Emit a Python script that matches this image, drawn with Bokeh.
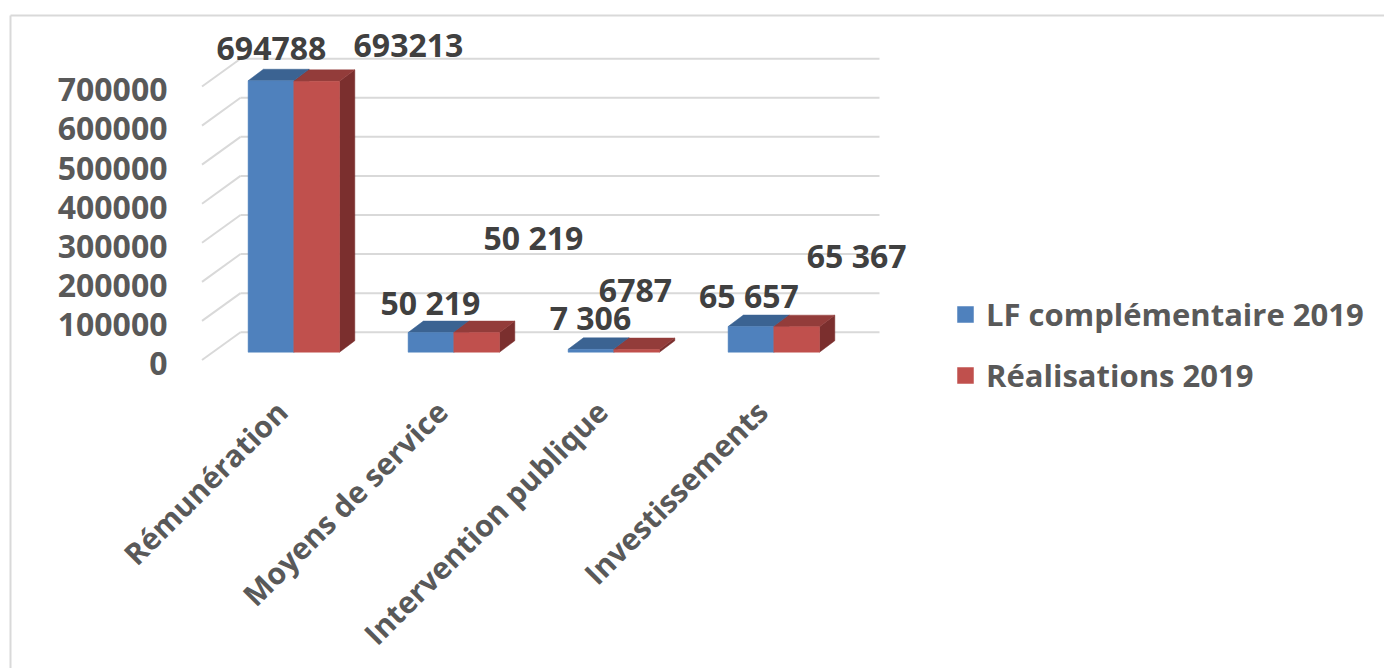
import math

from bokeh.core.properties import value
from bokeh.embed import file_html
from bokeh.models import ColumnDataSource, Legend, LegendItem, Range1d
from bokeh.plotting import figure
from bokeh.resources import INLINE

# ---------------------------------------------------------------- data
categories = ["Rémunération", "Moyens de service", "Intervention publique", "Investissements"]
series_names = ["LF complémentaire 2019", "Réalisations 2019"]
lf_2019 = [694788, 50219, 7306, 65657]
real_2019 = [693213, 50219, 6787, 65367]
lf_labels = ["694788", "50 219", "7 306", "65 657"]
real_labels = ["693213", "50 219", "6787", "65 367"]
y_ticks = [0, 100000, 200000, 300000, 400000, 500000, 600000, 700000]
y_tick_labels = ["0", "100000", "200000", "300000", "400000", "500000", "600000", "700000"]

# ---------------------------------------------------------------- layout / style
W, H = 1384, 668
FONT = value("Open Sans")
CAT0_PX, CAT_STEP_PX = 293.3, 160.0      # first category centre, category pitch
BASE_PX = 351.7                          # pixel row of the bars' zero
PX_PER_VAL = 39.07 / 100000              # pixels per unit of value

BLUE, BLUE_TOP, BLUE_SIDE = "#4F81BD", "#3B6392", "#2F4F75"
RED, RED_TOP, RED_SIDE = "#C0504D", "#933C3A", "#7B2F2E"
GRID = "#D9D9D9"
TICK_TXT = "#595959"
LABEL_TXT = "#404040"


def dx(px):
    """Horizontal pixel distance expressed in category units."""
    return px / CAT_STEP_PX


def dy(px):
    """Vertical pixel distance expressed in value units."""
    return px / PX_PER_VAL


def px_x(px):
    return (px - CAT0_PX) / CAT_STEP_PX


def px_y(py):
    return (BASE_PX - py) / PX_PER_VAL


BAR_W = dx(45.7)                    # width of one bar's front face
DEPTH_X, DEPTH_Y = dx(15.3), dy(11.5)  # bar depth (oblique projection)
WALL_X0, WALL_X1 = px_x(240), px_x(879)  # back wall extent
FLOOR_FRONT_X = px_x(201.5)         # front-left corner of the floor
WALL_RISE = dy(20.0)                # back wall zero above the bars' zero
FRONT_DROP = dy(7.8)                # front edge zero below the bars' zero

# data label placement: horizontal shift (px) and rise of the text above the bar top (px)
lf_label_shift = [0.5, -0.5, -0.5, -2.0]
lf_label_rise = [31.9, 30.4, 32.1, 31.0]
real_label_shift = [91.8, 56.8, -1.2, 60.0]
real_label_rise = [35.9, 95.4, 59.0, 71.2]

p = figure(
    width=W, height=H,
    x_range=Range1d(px_x(0), px_x(W)),
    y_range=Range1d(px_y(H), px_y(0)),
    x_axis_type=None, y_axis_type=None,
    output_backend="svg", toolbar_location=None,
    min_border=0, outline_line_color=None,
    background_fill_color="white", border_fill_color="white",
)
p.grid.visible = False

# chart area border (left and top edges)
p.segment(x0=[px_x(10), px_x(10)], y0=[px_y(15), px_y(15)],
          x1=[px_x(W + 10), px_x(10)], y1=[px_y(15), px_y(H + 10)],
          line_color=GRID, line_width=2)

# back wall gridlines and left wall diagonals
p.segment(x0=[WALL_X0] * len(y_ticks), x1=[WALL_X1] * len(y_ticks),
          y0=[t + WALL_RISE for t in y_ticks], y1=[t + WALL_RISE for t in y_ticks],
          line_color=GRID, line_width=2)
p.segment(x0=[FLOOR_FRONT_X] * len(y_ticks), x1=[WALL_X0] * len(y_ticks),
          y0=[t - FRONT_DROP for t in y_ticks], y1=[t + WALL_RISE for t in y_ticks],
          line_color=GRID, line_width=2)

# y tick labels along the front edge of the left wall
p.text(x=[px_x(167)] * len(y_ticks), y=[t - FRONT_DROP - dy(3.4) for t in y_ticks],
       text=y_tick_labels, text_align="right", text_baseline="alphabetic",
       text_font=FONT, text_font_style="bold", text_font_size="32px", text_color=TICK_TXT)


def bar_series(vals, offset, front, top, side):
    x0 = [i + offset for i in range(len(vals))]
    x1 = [x + BAR_W for x in x0]
    side_xs = [[b, b, b + DEPTH_X, b + DEPTH_X] for b in x1]
    side_ys = [[0, v, v + DEPTH_Y, DEPTH_Y] for v in vals]
    top_xs = [[a, b, b + DEPTH_X, a + DEPTH_X] for a, b in zip(x0, x1)]
    top_ys = [[v, v, v + DEPTH_Y, v + DEPTH_Y] for v in vals]
    p.patches(xs=side_xs, ys=side_ys, fill_color=side, line_color=side, line_width=0.5)
    p.patches(xs=top_xs, ys=top_ys, fill_color=top, line_color=top, line_width=0.5)
    src = ColumnDataSource(dict(left=x0, right=x1, bottom=[0] * len(vals), top=vals))
    return p.quad(left="left", right="right", bottom="bottom", top="top", source=src,
                  fill_color=front, line_color=front, line_width=0.5)


r_lf = bar_series(lf_2019, -BAR_W, BLUE, BLUE_TOP, BLUE_SIDE)
r_real = bar_series(real_2019, 0.0, RED, RED_TOP, RED_SIDE)

# value labels
for vals, labels, shift, rise, centre in (
    (lf_2019, lf_labels, lf_label_shift, lf_label_rise, -BAR_W / 2),
    (real_2019, real_labels, real_label_shift, real_label_rise, BAR_W / 2),
):
    p.text(x=[i + centre + dx(s) for i, s in enumerate(shift)],
           y=[v + dy(r) for v, r in zip(vals, rise)],
           text=labels, text_align="center", text_baseline="alphabetic",
           text_font=FONT, text_font_style="bold", text_font_size="32px", text_color=LABEL_TXT)

# category labels, rotated 45 degrees
p.text(x=[i - dx(12) for i in range(len(categories))], y=[-dy(54)] * len(categories),
       text=categories, angle=math.pi / 4, text_align="right", text_baseline="alphabetic",
       text_font=FONT, text_font_style="bold", text_font_size="30px", text_color=TICK_TXT)

legend = Legend(
    items=[LegendItem(label=series_names[0], renderers=[r_lf]),
           LegendItem(label=series_names[1], renderers=[r_real])],
    location=(955, 668 - 396),
    glyph_width=20, glyph_height=20, label_standoff=11,
    label_text_font="Open Sans", label_text_font_style="bold", label_text_font_size="31px",
    label_text_color=TICK_TXT, spacing=19, padding=0, margin=0,
    border_line_color=None, background_fill_alpha=0,
)
p.add_layout(legend)

open("out.html", "w").write(file_html(p, INLINE))
